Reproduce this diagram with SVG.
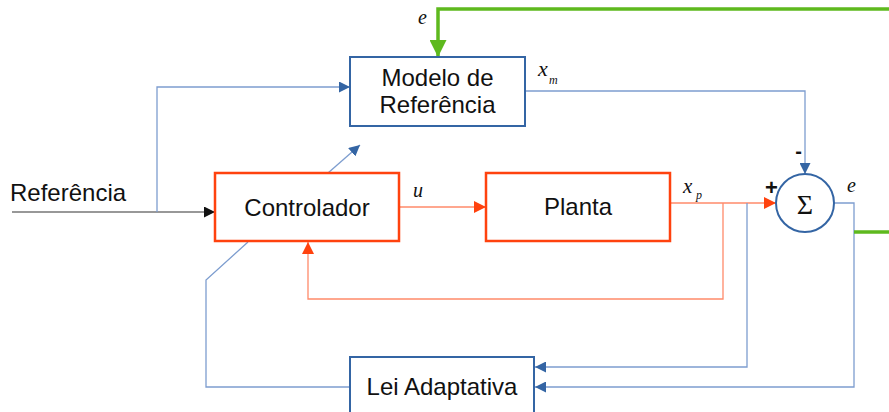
<svg xmlns="http://www.w3.org/2000/svg" width="889" height="412" viewBox="0 0 889 412">
<style>
.lbl{font-family:"Liberation Sans",Arial,sans-serif;font-size:24px;fill:#111;text-anchor:middle}
.it{font-family:"Liberation Serif","Times New Roman",serif;font-style:italic;fill:#111}
.bb{fill:#fff;stroke:#3465a4;stroke-width:2}
.ob{fill:#fff;stroke:#ff420e;stroke-width:2.5}
.cb{fill:none;stroke:#7d9dcf;stroke-width:1.3}
.co{fill:none;stroke:#ff8a6a;stroke-width:1.3}
.ck{fill:none;stroke:#333;stroke-width:1.2}
.cg{fill:none;stroke:#5eb91e;stroke-width:3.5}
</style>
<defs>
<marker id="ab" viewBox="0 0 12 12" refX="12" refY="6" markerWidth="11" markerHeight="11" markerUnits="userSpaceOnUse" orient="auto"><path d="M0,0 L12,6 L0,12 z" fill="#3465a4"/></marker>
<marker id="ao" viewBox="0 0 12 12" refX="12" refY="6" markerWidth="12" markerHeight="12" markerUnits="userSpaceOnUse" orient="auto"><path d="M0,0 L12,6 L0,12 z" fill="#ff420e"/></marker>
<marker id="ak" viewBox="0 0 12 12" refX="12" refY="6" markerWidth="11" markerHeight="11" markerUnits="userSpaceOnUse" orient="auto"><path d="M0,0 L12,6 L0,12 z" fill="#111"/></marker>
<marker id="ag" viewBox="0 0 12 12" refX="12" refY="6" markerWidth="17" markerHeight="17" markerUnits="userSpaceOnUse" orient="auto"><path d="M0,0 L12,6 L0,12 z" fill="#5eb91e"/></marker>
</defs>
<g id="connectors">
<path class="ck" d="M12,212 H215" marker-end="url(#ak)"/>
<path class="cb" d="M157,212 V87 H350" marker-end="url(#ab)"/>
<path class="cb" d="M328,173 L360,145" marker-end="url(#ab)"/>
<path class="co" d="M399,207 H486" marker-end="url(#ao)"/>
<path class="co" d="M670,203 H776" marker-end="url(#ao)"/>
<path class="co" d="M723,203 V299 H308 V242" marker-end="url(#ao)"/>
<path class="cb" d="M747,203 V367 H535" marker-end="url(#ab)"/>
<path class="cb" d="M525,91 H805 V174" marker-end="url(#ab)"/>
<path class="cb" d="M834,203 H854 V387 H535" marker-end="url(#ab)"/>
<path class="cb" d="M248,242 L206,280 V387 H350"/>
<path class="cg" d="M889,9 H438 V57" marker-end="url(#ag)"/>
<path class="cg" d="M854,232 H889"/>
</g>
<g id="modelo">
<rect class="bb" x="350" y="57" width="175" height="69"/>
<text class="lbl" x="437.5" y="86">Modelo de</text>
<text class="lbl" x="437.5" y="113">Referência</text>
</g>
<g id="controlador">
<rect class="ob" x="215" y="173" width="184" height="68"/>
<text class="lbl" x="307" y="216">Controlador</text>
</g>
<g id="planta">
<rect class="ob" x="486" y="173" width="184" height="68"/>
<text class="lbl" x="578" y="215">Planta</text>
</g>
<g id="lei">
<rect class="bb" x="350" y="357" width="184" height="70"/>
<text class="lbl" x="442" y="395">Lei Adaptativa</text>
</g>
<g id="soma">
<circle cx="805" cy="203" r="29" fill="#fff" stroke="#3465a4" stroke-width="2"/>
<text x="805" y="214" font-family="'Liberation Serif','Times New Roman',serif" font-size="28" text-anchor="middle" fill="#111">Σ</text>
<text x="771.5" y="195" font-family="'Liberation Sans',Arial,sans-serif" font-size="22" font-weight="bold" text-anchor="middle" fill="#111">+</text>
<text x="798.5" y="158" font-family="'Liberation Sans',Arial,sans-serif" font-size="20" font-weight="bold" text-anchor="middle" fill="#111">-</text>
</g>
<g id="labels">
<text x="10" y="201" font-family="'Liberation Sans',Arial,sans-serif" font-size="24" fill="#111">Referência</text>
<text class="it" x="418" y="24" font-size="20">e</text>
<text class="it" x="847" y="192" font-size="20">e</text>
<text class="it" x="413" y="197" font-size="20">u</text>
<text class="it" x="538" y="76" font-size="22">x</text>
<text class="it" x="549" y="84" font-size="12">m</text>
<text class="it" x="683" y="193" font-size="21">x</text>
<text class="it" x="696" y="199" font-size="12">p</text>
</g>
</svg>
